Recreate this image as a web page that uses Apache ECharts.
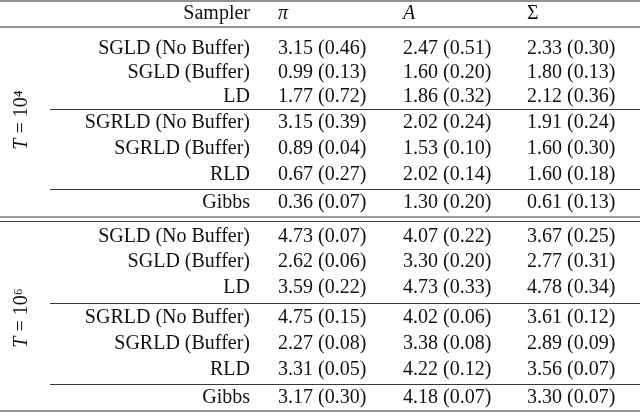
<!DOCTYPE html>
<html><head><meta charset="utf-8">
<script src="https://cdn.jsdelivr.net/npm/echarts@6/dist/echarts.min.js"></script>
<style>html,body{margin:0;background:#fff}#c{width:640px;height:412px}</style>
</head><body><div id="c"></div>
<script>
const headers = ['Sampler', 'π', 'A', 'Σ'];
const samplers = ['SGLD (No Buffer)', 'SGLD (Buffer)', 'LD', 'SGRLD (No Buffer)', 'SGRLD (Buffer)', 'RLD', 'Gibbs'];
const groups = ['10⁴', '10⁶'];
const piT4 = ['3.15 (0.46)', '0.99 (0.13)', '1.77 (0.72)', '3.15 (0.39)', '0.89 (0.04)', '0.67 (0.27)', '0.36 (0.07)'];
const aT4  = ['2.47 (0.51)', '1.60 (0.20)', '1.86 (0.32)', '2.02 (0.24)', '1.53 (0.10)', '2.02 (0.14)', '1.30 (0.20)'];
const sT4  = ['2.33 (0.30)', '1.80 (0.13)', '2.12 (0.36)', '1.91 (0.24)', '1.60 (0.30)', '1.60 (0.18)', '0.61 (0.13)'];
const piT6 = ['4.73 (0.07)', '2.62 (0.06)', '3.59 (0.22)', '4.75 (0.15)', '2.27 (0.08)', '3.31 (0.05)', '3.17 (0.30)'];
const aT6  = ['4.07 (0.22)', '3.30 (0.20)', '4.73 (0.33)', '4.02 (0.06)', '3.38 (0.08)', '4.22 (0.12)', '4.18 (0.07)'];
const sT6  = ['3.67 (0.25)', '2.77 (0.31)', '4.78 (0.34)', '3.61 (0.12)', '2.89 (0.09)', '3.56 (0.07)', '3.30 (0.07)'];

// layout
const colX = [250, 278, 403, 527];
const FONT = '"Liberation Serif","DejaVu Serif",serif';
const FS = 20;
const rowY = [[49,73,97,123,149,175,203],[237,262,288,318,344,370,398]];
const cells = [];
const vals = [[piT4,aT4,sT4],[piT6,aT6,sT6]];
headers.forEach((h,c)=>cells.push({x:colX[c], y:14, t:h, align:c===0?'right':'left', italic:c>0&&c<3}));
for (let g=0; g<2; g++) {
  samplers.forEach((s,i)=>{
    cells.push({x:colX[0], y:rowY[g][i], t:s, align:'right'});
    for (let c=0;c<3;c++) cells.push({x:colX[c+1], y:rowY[g][i], t:vals[g][c][i], align:'left'});
  });
}
const lines = [[0,640,1,1],[0,640,27,1],[50,640,109.5,0.9],[50,640,189.5,0.9],[0,640,217,0.9],[0,640,221.5,0.9],[50,640,303.5,0.9],[50,640,384.5,0.9],[0,640,411,1]];
const glabels = [{y:120,t:groups[0]},{y:318,t:groups[1]}];

const chart = echarts.init(document.getElementById('c'));
chart.setOption({
  animation:false,
  grid:{left:0,right:0,top:0,bottom:0},
  xAxis:{type:'value',min:0,max:640,show:false},
  yAxis:{type:'value',min:0,max:412,inverse:true,show:false},
  series:[
    {type:'custom', data:cells.map(d=>[d.x,d.y]), renderItem:(p,api)=>{
      const d=cells[p.dataIndex]; const pt=api.coord([d.x,d.y]);
      return {type:'text', x:pt[0], y:pt[1], style:{text:d.t, fill:'#111', font:(d.italic?'italic ':'')+FS+'px '+FONT, align:d.align, verticalAlign:'middle'}};
    }},
    {type:'custom', data:lines.map(l=>[l[0],l[2]]), renderItem:(p,api)=>{
      const l=lines[p.dataIndex]; const a=api.coord([l[0],l[2]]), b=api.coord([l[1],l[2]]);
      return {type:'line', shape:{x1:a[0],y1:a[1],x2:b[0],y2:b[1]}, style:{stroke:'#222', lineWidth:l[3]}};
    }},
    {type:'custom', data:glabels.map(g=>[22,g.y]), renderItem:(p,api)=>{
      const g=glabels[p.dataIndex]; const pt=api.coord([22,g.y]);
      return {type:'text', x:pt[0], y:pt[1], rotation:Math.PI/2, style:{text:'{i|T} = '+g.t, fill:'#111', font:FS+'px '+FONT, align:'center', verticalAlign:'middle',
        rich:{i:{fontStyle:'italic', fontSize:FS, fontFamily:FONT}}}};
    }}
  ]
});
</script></body></html>
